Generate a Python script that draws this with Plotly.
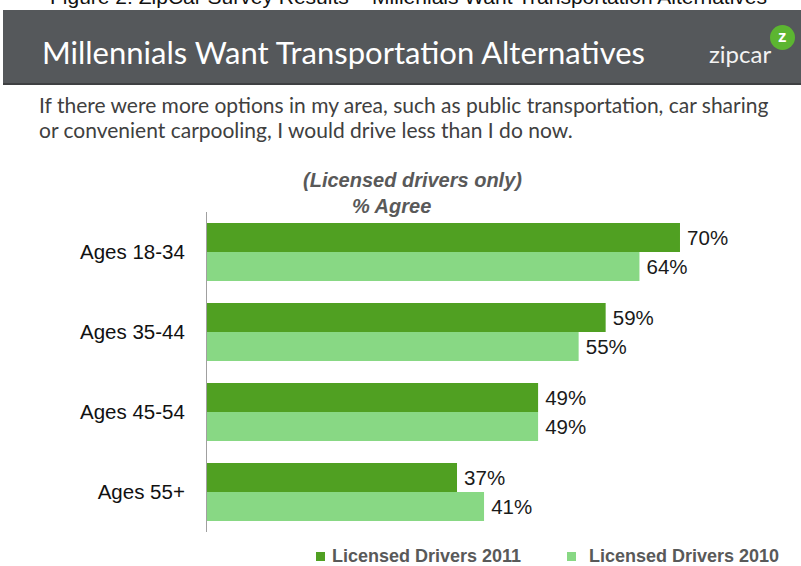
import plotly.graph_objects as go

# Survey data: share of licensed drivers who agree
age_groups = ["Ages 18-34", "Ages 35-44", "Ages 45-54", "Ages 55+"]
drivers_2011 = [70, 59, 49, 37]
drivers_2010 = [64, 55, 49, 41]
series_names = ["Licensed Drivers 2011", "Licensed Drivers 2010"]

W, H = 801, 566
PL, PR, PT, PB = 207, 801, 212, 532  # plot area in pixels


def px(x):
    return (x - PL) / (PR - PL)


def py(y):
    return (PB - y) / (PB - PT)


DARK = "#50a022"
LIGHT = "#88d884"
ARIAL = "Arial, Liberation Sans, sans-serif"
NARROW = "Lato, sans-serif"

fig = go.Figure()
for name, vals, col in [(series_names[0], drivers_2011, DARK),
                        (series_names[1], drivers_2010, LIGHT)]:
    fig.add_trace(go.Bar(
        y=age_groups, x=vals, orientation="h", name=name,
        marker=dict(color=col, line=dict(width=0)),
        text=[f"\u2009{v}%" for v in vals], textposition="outside",
        textfont=dict(family=ARIAL, size=20.5, color="#1a1a1a"),
        cliponaxis=False, showlegend=False,
    ))

scale = 6.757  # pixels per percentage point
fig.update_layout(
    width=W, height=H,
    margin=dict(l=PL, r=W - PR, t=PT, b=H - PB, pad=0),
    paper_bgcolor="white", plot_bgcolor="white",
    barmode="group", bargap=0.275, bargroupgap=0,
    xaxis=dict(range=[0, (PR - PL) / scale], visible=False, fixedrange=True),
    yaxis=dict(autorange="reversed", showline=True, linecolor="#a0a0a0", linewidth=1,
               showgrid=False, ticks="", ticklabelstandoff=17,
               tickfont=dict(family=ARIAL, size=20.5, color="#111111")),
)

shapes = []
# header band
shapes.append(dict(type="rect", xref="paper", yref="paper",
                   x0=px(3), x1=px(801), y0=py(83), y1=py(10),
                   fillcolor="#55585b", line=dict(width=0), layer="below"))
shapes.append(dict(type="rect", xref="paper", yref="paper",
                   x0=px(3), x1=px(801), y0=py(85), y1=py(83),
                   fillcolor="#3e4042", line=dict(width=0), layer="below"))
# zipcar badge
shapes.append(dict(type="circle", xref="paper", yref="paper",
                   x0=px(770), x1=px(795), y0=py(50), y1=py(25),
                   fillcolor="#5cb531", line=dict(width=0)))
# legend swatches
shapes.append(dict(type="rect", xref="paper", yref="paper",
                   x0=px(316), x1=px(325), y0=py(561), y1=py(552),
                   fillcolor=DARK, line=dict(width=0)))
shapes.append(dict(type="rect", xref="paper", yref="paper",
                   x0=px(567), x1=px(576), y0=py(561), y1=py(552),
                   fillcolor=LIGHT, line=dict(width=0)))
fig.update_layout(shapes=shapes)

ann = []


def text(x, y, s, size, color, family=ARIAL, xanchor="left", yanchor="middle"):
    ann.append(dict(xref="paper", yref="paper", x=px(x), y=py(y), text=s,
                    showarrow=False, xanchor=xanchor, yanchor=yanchor,
                    font=dict(family=family, size=size, color=color)))


text(408, 10, "Figure 2: ZipCar Survey Results \u2013 Millenials Want Transportation Alternatives",
     21, "#111111", xanchor="center", yanchor="bottom")
text(40, 52, "Millennials Want Transportation Alternatives", 31, "white", family=NARROW)
text(707, 53, "zipcar", 24, "#f2f2f2", family=NARROW)
text(782, 36, "<b>z</b>", 17, "white", xanchor="center")
text(37, 104, "If there were more options in my area, such as public transportation, car sharing",
     21, "#404040", family=NARROW)
text(37, 129, "or convenient carpooling, I would drive less than I do now.",
     21, "#404040", family=NARROW)
text(412, 180, "<b><i>(Licensed drivers only)</i></b>", 20, "#595959", xanchor="center")
text(391, 206, "<b><i>% Agree</i></b>", 20, "#595959", xanchor="center")
text(330, 556, f"<b>{series_names[0]}</b>", 18, "#595959")
text(587, 556, f"<b>{series_names[1]}</b>", 18, "#595959")
fig.update_layout(annotations=ann)

fig.write_html("out.html")
